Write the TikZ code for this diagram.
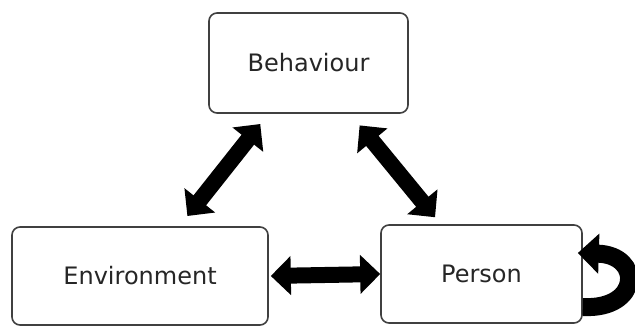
\documentclass[tikz,border=0pt]{standalone}
\usepackage{fontspec}
\setmainfont{DejaVu Sans}
\usepackage{tikz}
\usetikzlibrary{arrows.meta}
\usepackage{xcolor}

\tikzset{
	factor/.style={rectangle,rounded corners=8pt,draw=black!75,line width=1.6pt,fill=white,text=black!85,inner sep=0pt,font=\fontsize{24}{28}\selectfont},
	twoway/.style={line width=16pt,{Triangle[length=20pt,width=38pt]}-{Triangle[length=20pt,width=38pt]}},
	selfloop/.style={line width=18pt,-{Triangle[length=21pt,width=39pt]}}
}

\begin{document}
\begin{tikzpicture}[x=1pt,y=-1pt]
				\useasboundingbox (0,0) rectangle (635,327);
				\node(B) at (308.5,63)[factor,minimum width=199pt,minimum height=100pt]{Behaviour};
				\node(E) at (140,276)[factor,minimum width=256pt,minimum height=98pt]{Environment};
				\node(P) at (481.5,274)[factor,minimum width=201pt,minimum height=98pt]{Person};
				
				\draw[twoway,shorten <=13pt,shorten >=13pt] (B) -- (E);
				\draw[twoway,shorten <=15pt,shorten >=9pt] (B) -- (P);
				\draw[twoway,shorten <=2pt,shorten >=0pt] (E.east) -- (P.west);
				\draw[selfloop] ([yshift=-33pt]P.east) .. controls +(58,3) and +(65,2) .. ([xshift=-5pt,yshift=21pt]P.east);
			\end{tikzpicture}
\end{document}
